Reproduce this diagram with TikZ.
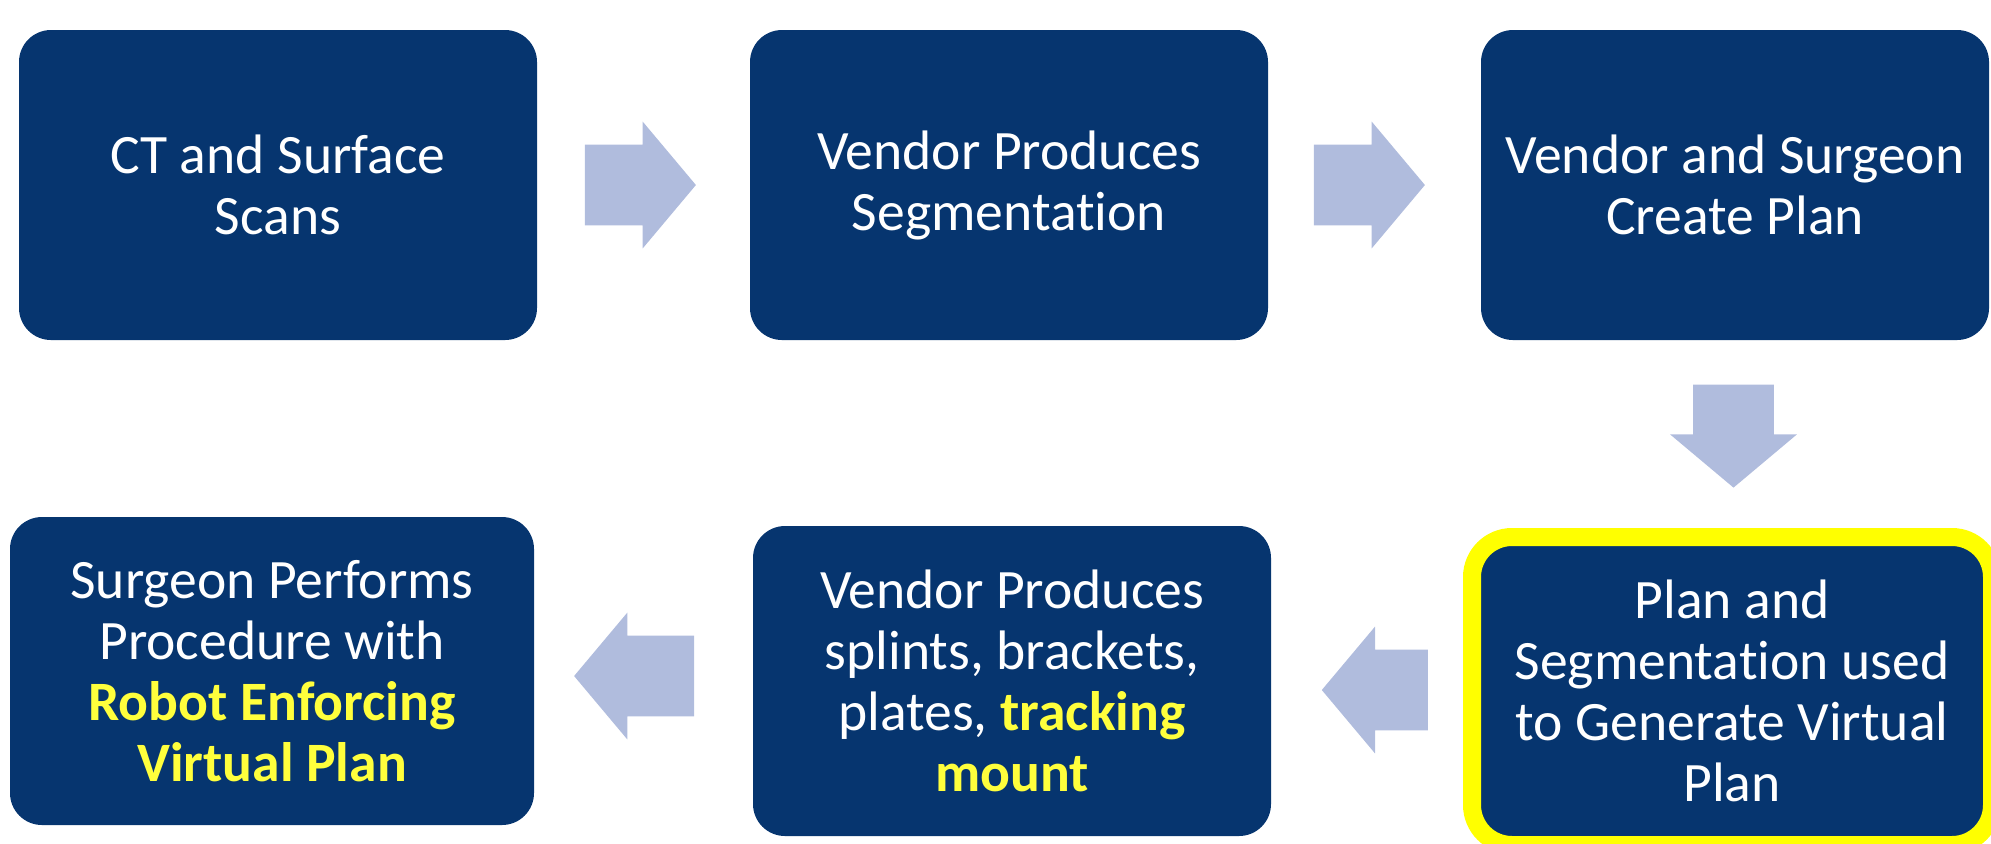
\documentclass[tikz,border=0pt]{standalone}
\usepackage{fontspec}
\setmainfont{Carlito}[Ligatures=CommonOff]
\usetikzlibrary{shapes.arrows,calc}
\definecolor{vspNavy}{HTML}{06356F}
\definecolor{vspLilac}{HTML}{B0BCDD}
\definecolor{vspYellow}{HTML}{FFFF00}
\definecolor{vspGold}{HTML}{FFFF3C}
\newcommand{\vsphl}[1]{\textbf{\textcolor{vspGold}{#1}}}
\tikzset{
  vsp box/.style={rectangle, rounded corners=16pt, fill=vspNavy, text=white, align=center, minimum width=259pt, minimum height=155pt, inner sep=0pt, font=\fontsize{27.8}{30.5}\selectfont},
  vsp focus/.style={vsp box, draw=vspYellow, line width=9pt, minimum width=260pt, minimum height=154pt, rounded corners=20pt},
  vsp arrow/.style={single arrow, anchor=tail, fill=vspLilac, draw=none, minimum height=55.5pt, inner xsep=0pt, inner ysep=20pt, single arrow head extend=11.5pt, single arrow tip angle=100},
}

\begin{document}
\begin{tikzpicture}[x=0.5pt, y=-0.5pt]
  \useasboundingbox (0,0) rectangle (1991,843);
  % ----- Top row: scans -> segmentation -> plan -----
  \node[vsp box] (scans) at (278,185) {CT and Surface\\Scans};
  \node[vsp box] (segm) at (1009,185) {Vendor Produces\\Segmentation};
  \node[vsp box, minimum width=254pt] (plan) at (1735,185) {Vendor and Surgeon\\Create Plan};
  % ----- Bottom row, right to left -----
  \node[vsp focus] (virt) at (1732,691) {Plan and\\Segmentation used\\to Generate Virtual\\Plan};
  \node[vsp box] (parts) at (1012,681) {Vendor Produces\\splints, brackets,\\plates, \vsphl{tracking}\\\vsphl{mount}};
  \node[vsp box, minimum width=262pt, minimum height=154pt] (robot) at (272,671) {Surgeon Performs\\Procedure with\\\vsphl{Robot Enforcing}\\\vsphl{Virtual Plan}};
  % ----- Block arrows between the steps (placed by their tails) -----
  \node[vsp arrow] (a1) at ($(scans.east)!0.5!(segm.west)+(-59,0)$) {};
  \node[vsp arrow] (a2) at ($(segm.east)!0.5!(plan.west)+(-61,0)$) {};
  \node[vsp arrow, rotate=-90, minimum height=51.5pt] (a3) at ($(plan.south)!0.5!(virt.north)+(0,-50)$) {};
  \node[vsp arrow, rotate=180, minimum height=53pt] (a4) at ($(virt.west)!0.5!(parts.east)+(61,4)$) {};
  \node[vsp arrow, rotate=180, minimum height=60pt] (a5) at ($(parts.west)!0.5!(robot.east)+(51,0)$) {};
\end{tikzpicture}
\end{document}
